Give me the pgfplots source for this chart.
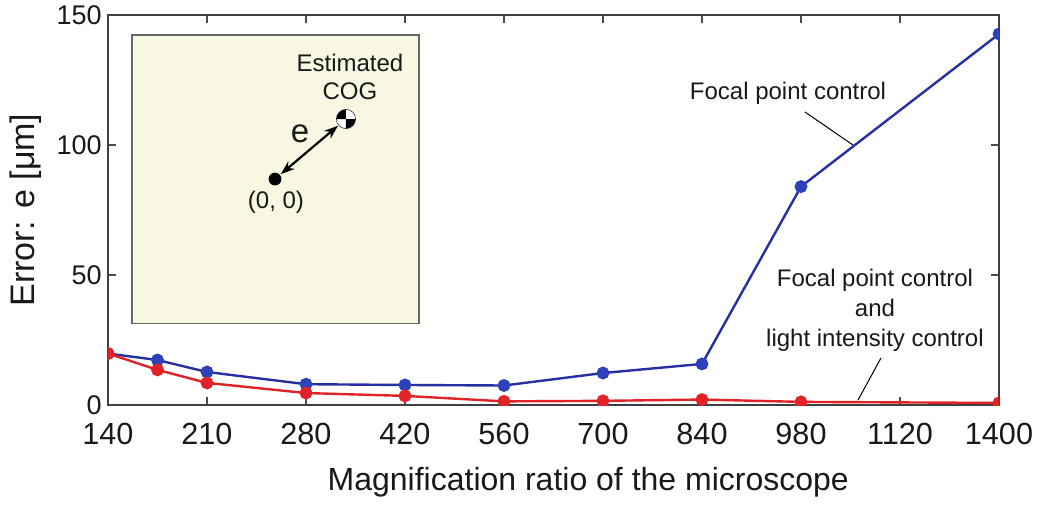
\documentclass[border=0pt]{standalone}
\usepackage{pgfplots}
\pgfplotsset{compat=1.18}
\usepackage{fontspec}
\setmainfont{Liberation Sans}
\usetikzlibrary{arrows.meta}
\definecolor{blueline}{RGB}{38,48,160}
\definecolor{bluemark}{RGB}{45,65,185}
\definecolor{redc}{RGB}{225,35,40}
\definecolor{insetfill}{RGB}{248,248,226}
\begin{document}
\begin{tikzpicture}
\useasboundingbox (-54pt,-49.5pt) rectangle (465pt,202.5pt);
\begin{axis}[
  at={(0pt,0pt)}, anchor=south west,
  width=445.5pt, height=195pt, scale only axis,
  xmin=0, xmax=9, ymin=0, ymax=150,
  xtick={0,1,2,3,4,5,6,7,8,9},
  xticklabels={140,210,280,420,560,700,840,980,1120,1400},
  ytick={0,50,100,150},
  tick align=inside,
  major tick length=4pt,
  tick style={black!70, line width=0.6pt},
  axis line style={black!75, line width=0.8pt},
  /pgf/number format/assume math mode=true,
  xticklabel style={font=\fontsize{15.3}{17}\selectfont, text=black!90, inner sep=0pt, yshift=-9pt},
  yticklabel style={font=\fontsize{13.5}{15}\selectfont, text=black!90, inner sep=0pt, xshift=-3pt},
  xlabel={Magnification ratio of the microscope},
  ylabel={Error: e [μm]},
  xlabel style={font=\fontsize{16}{18}\selectfont, text=black!90,
    at={(axis description cs:0.539,-0.197)}, anchor=center},
  ylabel style={font=\fontsize{17}{19}\selectfont, text=black!90,
    at={(axis description cs:-0.092,0.5)}, anchor=center, rotate=0},
  clip marker paths=true,
]
\addplot[blueline, line width=1.2pt, mark=*, mark size=2.6pt,
  mark options={fill=bluemark, draw=bluemark}] coordinates {
  (0,19.8) (0.5,17.3) (1,12.7) (2,8.0) (3,7.7) (4,7.5) (5,12.3) (6,15.8) (7,84.0) (9,142.7)
};
\addplot[redc, line width=1.2pt, mark=*, mark size=2.6pt,
  mark options={fill=redc, draw=redc}] coordinates {
  (0,19.8) (0.5,13.5) (1,8.5) (2,4.6) (3,3.5) (4,1.4) (5,1.6) (6,2.1) (7,1.2) (9,0.8)
};
% inset diagram
\draw[fill=insetfill, draw=black!60, line width=0.6pt]
  (axis cs:0.242,142.3) rectangle (axis cs:3.141,31.5);
\coordinate (dot) at (axis cs:1.687,86.9);
\coordinate (cog) at (axis cs:2.404,110);
\fill[black] (dot) circle (3.2pt);
\fill[white] (cog) circle (4.8pt);
\fill[black] (cog) -- ++(0,4.8pt) arc (90:180:4.8pt) -- cycle;
\fill[black] (cog) -- ++(0,-4.8pt) arc (270:360:4.8pt) -- cycle;
\draw[black!80, line width=0.3pt] (cog) circle (4.8pt);
\draw[{Stealth[length=7pt,width=5pt]}-{Stealth[length=7pt,width=5pt]}, line width=1.1pt,
  shorten <=3.8pt, shorten >=5.2pt] (dot) -- (cog);
\node[font=\fontsize{12}{15}\selectfont, text=black!90] at (axis cs:1.697,78.1) {(0, 0)};
\node[font=\fontsize{16.5}{18}\selectfont, text=black!90] at (axis cs:1.939,104.5) {e};
\node[font=\fontsize{12}{14}\selectfont, text=black!90, align=center] at (axis cs:2.444,126.2) {Estimated\\COG};
% annotations
\node[font=\fontsize{12}{15}\selectfont, text=black!90] at (axis cs:6.869,120) {Focal point control};
\draw[black, line width=0.5pt] (axis cs:7.04,112.7) -- (axis cs:7.525,100);
\node[font=\fontsize{12}{15}\selectfont, text=black!90, align=center] at (axis cs:7.747,36.5)
  {Focal point control\\and\\light intensity control};
\draw[black, line width=0.5pt] (axis cs:7.808,18.1) -- (axis cs:7.576,1.9);
\end{axis}
\end{tikzpicture}
\end{document}
